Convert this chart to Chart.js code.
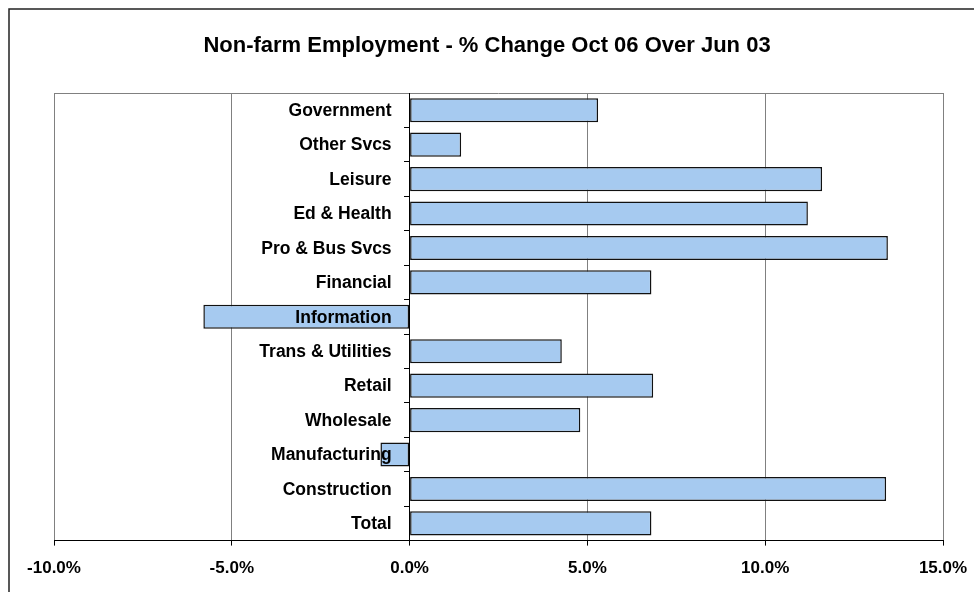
<!DOCTYPE html>
<html>
<head>
<meta charset="utf-8">
<title>Non-farm Employment</title>
<script src="https://cdn.jsdelivr.net/npm/chart.js@4.4.0/dist/chart.umd.min.js"></script>
<style>
  html, body { margin: 0; padding: 0; background: #fff; }
  #wrap { width: 974px; height: 592px; }
</style>
</head>
<body>
<div id="wrap"><canvas id="chart" width="974" height="592"></canvas></div>
<script>
// sectors, top to bottom
const sectors = [
    'Government', 'Other Svcs', 'Leisure', 'Ed & Health', 'Pro & Bus Svcs',
    'Financial', 'Information', 'Trans & Utilities', 'Retail', 'Wholesale',
    'Manufacturing', 'Construction', 'Total'
];
// % change Oct 06 over Jun 03
const pctChange = [5.3, 1.45, 11.6, 11.2, 13.45, 6.8, -5.8, 4.28, 6.85, 4.8, -0.82, 13.4, 6.8];
const xMin = -10;
const xMax = 15;
const xStep = 5;
const chartTitle = 'Non-farm Employment - % Change Oct 06 Over Jun 03';

const FONT = 'Liberation Sans, Arial, sans-serif';

// frame round the whole chart, title, and the top edge of the plot area
const framePlugin = {
    id: 'frame',
    beforeDraw(chart) {
        const ctx = chart.ctx;
        ctx.save();
        ctx.fillStyle = '#fff';
        ctx.fillRect(0, 0, chart.width, chart.height);
        ctx.strokeStyle = '#222';
        ctx.lineWidth = 1.5;
        ctx.strokeRect(9, 9, chart.width + 20, chart.height + 20);
        ctx.font = 'bold 22px ' + FONT;
        ctx.fillStyle = '#000';
        ctx.textAlign = 'center';
        ctx.textBaseline = 'middle';
        ctx.fillText(chartTitle, chart.width / 2, 46);
        ctx.restore();
    },
    afterDatasetsDraw(chart) {
        const a = chart.chartArea;
        const ctx = chart.ctx;
        ctx.save();
        ctx.strokeStyle = '#808080';
        ctx.lineWidth = 1;
        ctx.beginPath();
        ctx.moveTo(a.left, a.top + 0.5);
        ctx.lineTo(a.right, a.top + 0.5);
        ctx.stroke();
        ctx.restore();
    }
};

// category names sit just left of the zero line, on top of the bars
const sectorLabels = {
    id: 'sectorLabels',
    afterDatasetsDraw(chart) {
        const ctx = chart.ctx;
        const xs = chart.scales.x;
        const ys = chart.scales.y;
        const x0 = xs.getPixelForValue(0) - 18;
        ctx.save();
        ctx.font = 'bold 17.5px ' + FONT;
        ctx.fillStyle = '#000';
        ctx.textAlign = 'right';
        ctx.textBaseline = 'middle';
        sectors.forEach((name, i) => {
            ctx.fillText(name, x0, ys.getPixelForValue(i) + 1);
        });
        ctx.restore();
    }
};

const ctx = document.getElementById('chart').getContext('2d');
new Chart(ctx, {
    type: 'bar',
    data: {
        labels: sectors,
        datasets: [{
            data: pctChange,
            backgroundColor: '#A6CAF0',
            borderColor: '#111',
            borderWidth: 1.5,
            borderSkipped: false,
            categoryPercentage: 1,
            barPercentage: 0.7
        }]
    },
    options: {
        indexAxis: 'y',
        responsive: false,
        animation: false,
        layout: { autoPadding: false, padding: { left: 54, right: 31, top: 93, bottom: 0 } },
        plugins: {
            legend: { display: false },
            tooltip: { enabled: false },
            title: { display: false }
        },
        scales: {
            x: {
                min: xMin,
                max: xMax,
                afterFit(scale) {
                    // end labels may hang past the plot area
                    scale.paddingLeft = 0;
                    scale.paddingRight = 0;
                },
                grid: { color: '#808080', tickColor: '#000', tickLength: 5, lineWidth: 1 },
                border: { color: '#000', width: 1 },
                ticks: {
                    stepSize: xStep,
                    padding: 13,
                    maxRotation: 0,
                    color: '#000',
                    font: { family: FONT, size: 17, weight: 'bold' },
                    callback: v => v.toFixed(1) + '%'
                }
            },
            y: {
                position: { x: 0 },
                afterFit(scale) {
                    scale.paddingLeft = 0;
                    scale.paddingRight = 0;
                },
                grid: { drawOnChartArea: false, drawTicks: true, tickLength: 5, color: '#000' },
                border: { color: '#000', width: 1, z: 1 },
                ticks: { display: false }
            }
        }
    },
    plugins: [framePlugin, sectorLabels]
});
</script>
</body>
</html>
